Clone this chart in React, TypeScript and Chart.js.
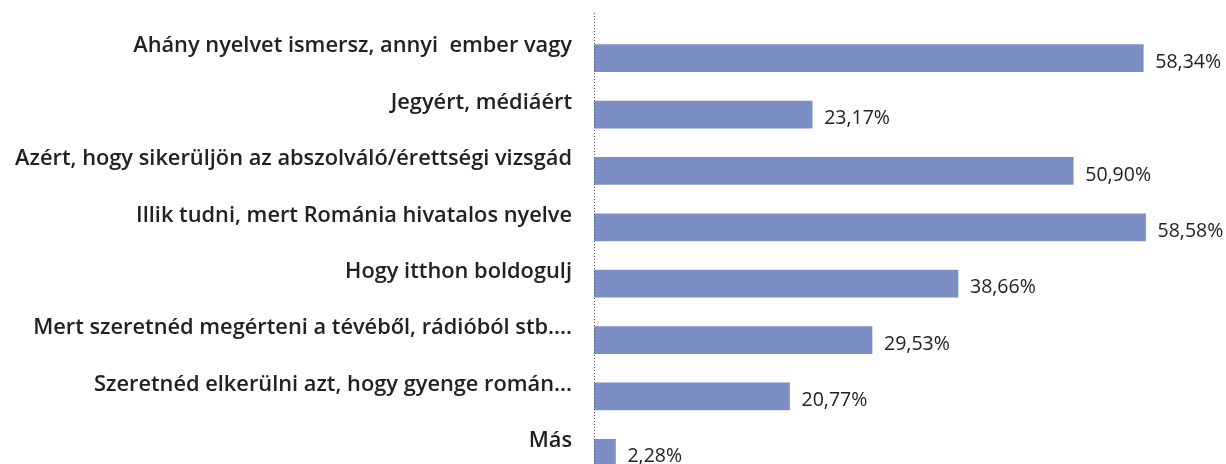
import React, { useEffect, useRef } from "react";
import { Chart, registerables } from "chart.js";

Chart.register(...registerables);

const categories = [
  "Ahány nyelvet ismersz, annyi  ember vagy",
  "Jegyért, médiáért",
  "Azért, hogy sikerüljön az abszolváló/érettségi vizsgád",
  "Illik tudni, mert Románia hivatalos nyelve",
  "Hogy itthon boldogulj",
  "Mert szeretnéd megérteni a tévéből, rádióból stb....",
  "Szeretnéd elkerülni azt, hogy gyenge román...",
  "Más",
];
const values = [58.34, 23.17, 50.9, 58.58, 38.66, 29.53, 20.77, 2.28];
const valueLabels = ["58,34%", "23,17%", "50,90%", "58,58%", "38,66%", "29,53%", "20,77%", "2,28%"];

const FONT = "'Open Sans', Lato, sans-serif";

const extras = {
  id: "extras",
  afterDatasetsDraw(chart: any) {
    const ctx = chart.ctx;
    const meta = chart.getDatasetMeta(0);
    const xs = chart.scales.x;
    ctx.save();
    ctx.strokeStyle = "#555";
    ctx.lineWidth = 1;
    ctx.setLineDash([1, 2]);
    ctx.beginPath();
    ctx.moveTo(Math.round(xs.left) + 0.5, 13);
    ctx.lineTo(Math.round(xs.left) + 0.5, chart.height);
    ctx.stroke();
    ctx.setLineDash([]);
    ctx.fillStyle = "#222";
    ctx.font = `19.5px ${FONT}`;
    ctx.textAlign = "left";
    ctx.textBaseline = "middle";
    meta.data.forEach((bar: any, i: number) => {
      ctx.fillText(valueLabels[i], bar.x + 12, bar.y + 4);
    });
    ctx.restore();
  },
};

export default function App() {
  const ref = useRef<HTMLCanvasElement>(null);
  useEffect(() => {
    document.body.style.margin = "0";
    document.body.style.overflow = "hidden";
    const chart = new Chart(ref.current!, {
      type: "bar",
      data: {
        labels: categories,
        datasets: [
          {
            data: values,
            backgroundColor: "#7b8fc4",
            borderWidth: 0,
            barThickness: 27,
          },
        ],
      },
      options: {
        indexAxis: "y",
        animation: false,
        responsive: false,
        maintainAspectRatio: false,
        layout: { padding: { top: 30, right: 20, left: 0, bottom: 0 } },
        plugins: { legend: { display: false }, tooltip: { enabled: false } },
        scales: {
          x: { display: false, min: 0, max: 65 },
          y: {
            grid: { display: false, drawTicks: false },
            border: { display: false },
            afterFit: (s: any) => {
              s.width = 594;
              s.paddingTop = 0;
              s.paddingBottom = 0;
            },
            ticks: {
              padding: 22,
              labelOffset: -12,
              color: "#222",
              font: { family: FONT, size: 21.8, weight: "600" },
            },
          },
        },
      },
      plugins: [extras],
    });
    return () => chart.destroy();
  }, []);
  return (
    <div style={{ position: "fixed", left: 0, top: 0, width: 1226, height: 481 }}>
      <canvas ref={ref} width={1226} height={481} />
    </div>
  );
}
